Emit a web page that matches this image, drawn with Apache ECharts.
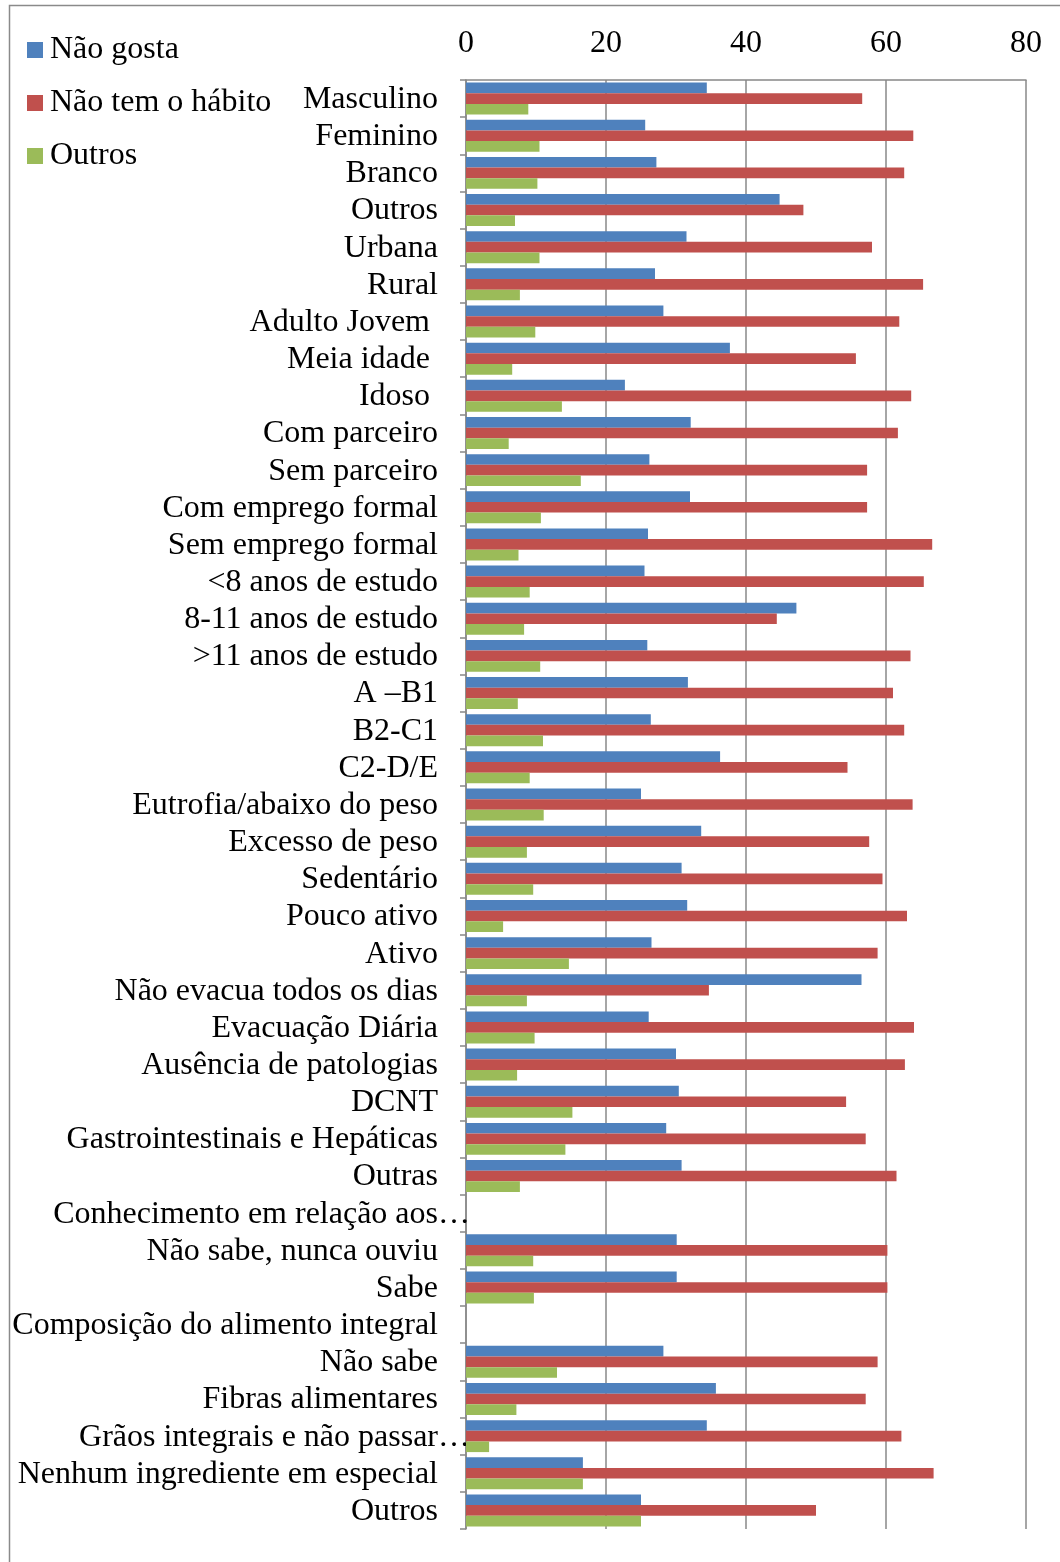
<!DOCTYPE html>
<html>
<head>
<meta charset="utf-8">
<script src="https://cdn.jsdelivr.net/npm/echarts@6/dist/echarts.min.js"></script>
<style>html,body{margin:0;padding:0;background:#fff;}#c{width:1060px;height:1562px;}</style>
</head>
<body>
<div id="c"></div>
<script>
const categories = [
  'Masculino','Feminino','Branco','Outros','Urbana','Rural',
  'Adulto Jovem ','Meia idade ','Idoso ',
  'Com parceiro','Sem parceiro','Com emprego formal','Sem emprego formal',
  '<8 anos de estudo','8-11 anos de estudo','>11 anos de estudo',
  'A –B1','B2-C1','C2-D/E',
  'Eutrofia/abaixo do peso','Excesso de peso',
  'Sedentário','Pouco ativo','Ativo',
  'Não evacua todos os dias','Evacuação Diária',
  'Ausência de patologias','DCNT','Gastrointestinais e Hepáticas','Outras',
  'Conhecimento em relação aos…','Não sabe, nunca ouviu','Sabe',
  'Composição do alimento integral','Não sabe','Fibras alimentares',
  'Grãos integrais e não passar…','Nenhum ingrediente em especial','Outros'
];
const seriesNames = ['Não gosta','Não tem o hábito','Outros'];
const naoGosta = [
  34.4,25.6,27.2,44.8,31.5,27.0,
  28.2,37.7,22.7,
  32.1,26.2,32.0,26.0,
  25.5,47.2,25.9,
  31.7,26.4,36.3,
  25.0,33.6,
  30.8,31.6,26.5,
  56.5,26.1,
  30.0,30.4,28.6,30.8,
  null,30.1,30.1,
  null,28.2,35.7,
  34.4,16.7,25.0
];
const naoTemHabito = [
  56.6,63.9,62.6,48.2,58.0,65.3,
  61.9,55.7,63.6,
  61.7,57.3,57.3,66.6,
  65.4,44.4,63.5,
  61.0,62.6,54.5,
  63.8,57.6,
  59.5,63.0,58.8,
  34.7,64.0,
  62.7,54.3,57.1,61.5,
  null,60.2,60.2,
  null,58.8,57.1,
  62.2,66.8,50.0
];
const outros = [
  8.9,10.5,10.2,7.0,10.5,7.7,
  9.9,6.6,13.7,
  6.1,16.4,10.7,7.5,
  9.1,8.3,10.6,
  7.4,11.0,9.1,
  11.1,8.7,
  9.6,5.3,14.7,
  8.7,9.8,
  7.3,15.2,14.2,7.7,
  null,9.6,9.7,
  null,13.0,7.2,
  3.3,16.7,25.0
];
const xTicks = {min: 0, max: 80, interval: 20};
const colors = ['#4F81BD','#C0504D','#9BBB59'];

const FONT = '"Liberation Serif","Times New Roman",serif';
const FS = 32;
const chart = echarts.init(document.getElementById('c'), null, {renderer: 'canvas'});
const values = [naoGosta, naoTemHabito, outros];
chart.setOption({
  animation: false,
  backgroundColor: '#fff',
  color: colors,
  textStyle: {fontFamily: FONT},
  graphic: [{
    type: 'rect', silent: true, z: -1,
    shape: {x: 9.5, y: 5.5, width: 1200, height: 1700},
    style: {fill: 'none', stroke: '#8a8a8a', lineWidth: 1.5}
  }],
  legend: {
    orient: 'vertical', left: 22, top: 27,
    icon: 'rect', itemWidth: 16, itemHeight: 16, itemGap: 17,
    textStyle: {fontFamily: FONT, fontSize: FS, color: '#000', lineHeight: 36, padding: [0,0,0,2]},
    data: seriesNames
  },
  grid: {left: 466, right: 34, top: 80, bottom: 33, containLabel: false},
  xAxis: {
    type: 'value', position: 'top',
    min: xTicks.min, max: xTicks.max, interval: xTicks.interval,
    axisLine: {show: true, lineStyle: {color: '#888', width: 1.5}},
    axisTick: {show: false},
    axisLabel: {fontFamily: FONT, fontSize: FS, color: '#000', margin: 20},
    splitLine: {show: true, lineStyle: {color: '#888', width: 1.5}}
  },
  yAxis: {
    type: 'category', inverse: true, data: categories,
    axisLine: {show: true, lineStyle: {color: '#888', width: 1.5}},
    axisTick: {show: true, length: 6, lineStyle: {color: '#888', width: 1.5}},
    axisLabel: {
      interval: 0, fontFamily: FONT, fontSize: FS, color: '#000', margin: 28,
      padding: [2, 0, 0, 0],
      formatter: function (v) {
        if (v.endsWith('…')) return '{a|' + v.slice(0, -1) + '}{e|…}';
        return v;
      },
      rich: {
        a: {fontFamily: FONT, fontSize: FS, color: '#000', align: 'left'},
        e: {fontFamily: FONT, fontSize: FS, color: '#000', width: 0, align: 'left'}
      }
    }
  },
  series: seriesNames.map((n, i) => ({
    name: n, type: 'bar', data: values[i],
    barGap: '0%', barCategoryGap: '14%',
    itemStyle: {color: colors[i]}
  }))
});
</script>
</body>
</html>
